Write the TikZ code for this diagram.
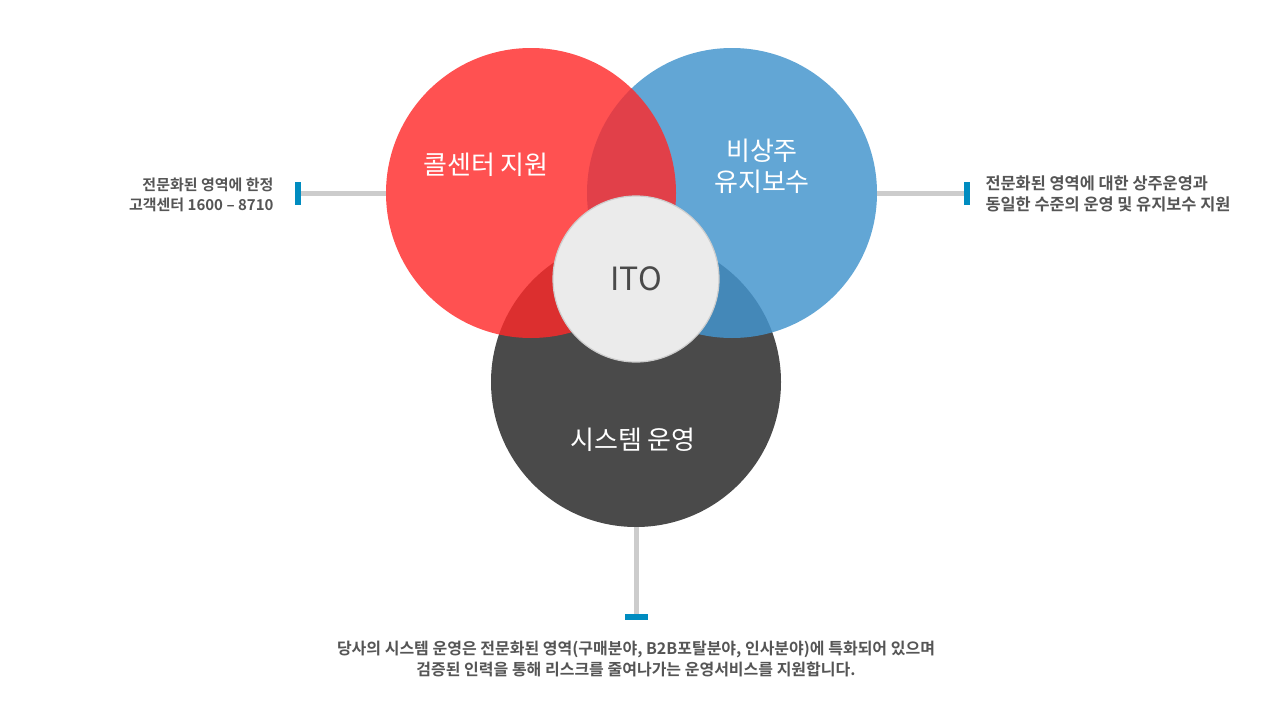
\documentclass[tikz,border=0pt]{standalone}
\usepackage{fontspec}
\setmainfont{Noto Sans CJK KR}
\newfontfamily\krb{Noto Sans CJK KR Bold}
\definecolor{cred}{RGB}{255,41,41}
\definecolor{cblue}{RGB}{68,149,206}
\definecolor{cdark}{RGB}{74,74,74}
\definecolor{cline}{RGB}{204,204,204}
\definecolor{cmark}{RGB}{0,140,192}
\definecolor{ctext}{RGB}{85,85,85}
\definecolor{citobg}{RGB}{235,235,235}
\definecolor{citoborder}{RGB}{205,205,205}
\begin{document}
\begin{tikzpicture}[x=1pt,y=-1pt,
  lbl/.style={text=white,font=\fontsize{26}{31}\selectfont,align=center},
  desc/.style={text=ctext,font=\krb\fontsize{16}{20.5}\selectfont},
  conn/.style={draw=cline,line width=5pt},
  marker/.style={fill=cmark,draw=none}]
\useasboundingbox (0,0) rectangle (1280,720);
\fill[white] (0,0) rectangle (1280,720);
% circles
\node[circle,minimum size=290pt,inner sep=0,fill=cdark] (dark) at (636,382) {};
\node[circle,minimum size=290pt,inner sep=0,fill=cblue,fill opacity=0.84] (blue) at (732,193) {};
\node[circle,minimum size=290pt,inner sep=0,fill=cred,fill opacity=0.81] (red) at (531,193) {};
\node[circle,minimum size=166pt,inner sep=0,fill=citobg,draw=citoborder,line width=1.2pt,text=cdark,font=\fontsize{32}{36}\selectfont] (ito) at (636,279) {ITO};
% labels
\node[lbl] (l1) at (486,165) {콜센터 지원};
\node[lbl] (l2) at (762,166) {비상주\\유지보수};
\node[lbl] (l3) at (633,440) {시스템 운영};
% connectors
\coordinate (mL) at (298,193);
\coordinate (mR) at (966,193);
\coordinate (mB) at (636,617);
\draw[conn] (red.west) -- (mL);
\draw[conn] (blue.east) -- (mR);
\draw[conn] (dark.south) -- (mB);
\fill[marker] (294.5,182) rectangle (300.5,205);
\fill[marker] (963.5,182) rectangle (969.5,205);
\fill[marker] (625,614) rectangle (648,620);
% descriptions
\node[desc,anchor=east,align=right,font=\krb\fontsize{15}{20.5}\selectfont] (dL) at (277,195) {전문화된 영역에 한정\\고객센터 1600 – 8710};
\node[desc,anchor=west,align=left,font=\krb\fontsize{16.4}{20.5}\selectfont] (dR) at (982,194) {전문화된 영역에 대한 상주운영과\\동일한 수준의 운영 및 유지보수 지원};
\node[desc,anchor=center,align=center] (dB) at (636,659) {당사의 시스템 운영은 전문화된 영역(구매분야, B2B포탈분야, 인사분야)에 특화되어 있으며\\검증된 인력을 통해 리스크를 줄여나가는 운영서비스를 지원합니다.};
\end{tikzpicture}
\end{document}
